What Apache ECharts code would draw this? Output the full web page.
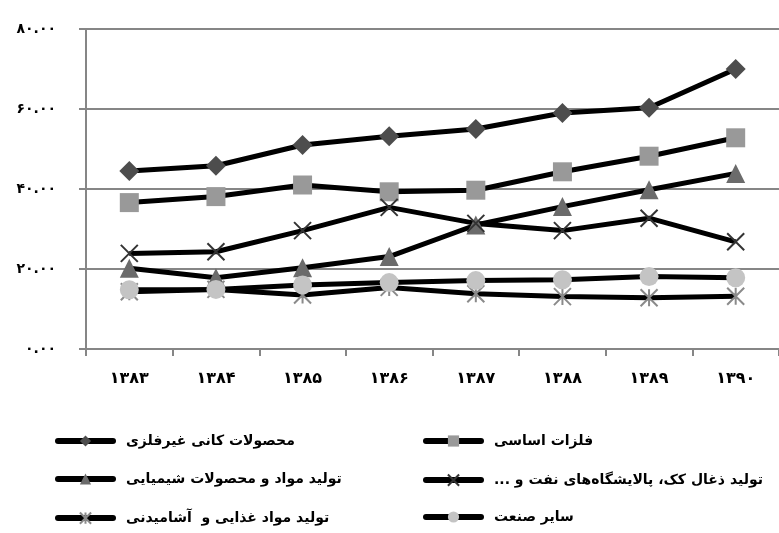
<!DOCTYPE html>
<html><head><meta charset="utf-8">
<script src="https://cdn.jsdelivr.net/npm/echarts@6/dist/echarts.min.js"></script>
<style>html,body{margin:0;padding:0;background:#fff}#c{width:779px;height:533px}</style>
</head><body><div id="c"></div>
<script>
const categories = ['۱۳۸۳','۱۳۸۴','۱۳۸۵','۱۳۸۶','۱۳۸۷','۱۳۸۸','۱۳۸۹','۱۳۹۰'];
const yTickLabels = ['۰.۰۰','۲۰.۰۰','۴۰.۰۰','۶۰.۰۰','۸۰.۰۰'];
const nonMetal = [44.5, 45.8, 51.0, 53.2, 55.0, 59.0, 60.3, 70.0];
const basicMetals = [36.6, 38.1, 41.0, 39.3, 39.7, 44.3, 48.2, 52.8];
const chemicals = [20.2, 17.8, 20.3, 23.1, 31.0, 35.6, 39.8, 43.9];
const coke = [23.9, 24.3, 29.6, 35.4, 31.4, 29.6, 32.7, 26.8];
const food = [14.3, 14.9, 13.5, 15.4, 13.8, 13.1, 12.8, 13.2];
const other = [14.8, 14.9, 16.0, 16.6, 17.1, 17.3, 18.1, 17.8];
const names = ['محصولات کانی غیرفلزی','فلزات اساسی','تولید مواد و محصولات شیمیایی','تولید ذغال کک، پالایشگاه‌های نفت و ...\u200F','تولید مواد غذایی و  آشامیدنی','سایر صنعت'];

const font = '"DejaVu Sans", sans-serif';
function mk(name, data, symbol, size, fill, stroke, bw) {
  return {
    name, type: 'line', data, symbol, symbolSize: size,
    lineStyle: { color: '#000', width: 5 },
    itemStyle: stroke ? { color: fill, borderColor: stroke, borderWidth: bw } : { color: fill },
    emphasis: { disabled: true }, animation: false
  };
}
const legendPos = [[55, 434], [423, 434], [55, 472], [423, 472], [55, 510], [423, 510]];
const legends = names.map((n, i) => ({
  left: legendPos[i][0], top: legendPos[i][1], itemWidth: 55, itemHeight: 14, itemGap: 0,
  padding: 0, data: [n],
  lineStyle: { width: 6, color: '#000', cap: 'round' },
  textStyle: { color: '#000', fontSize: 14, fontWeight: 'bold', fontFamily: font, padding: [0, 0, 0, 8] }
}));
const chart = echarts.init(document.getElementById('c'));
chart.setOption({
  animation: false,
  textStyle: { fontFamily: font },
  grid: { left: 86, top: 29, width: 697, height: 320, containLabel: false },
  xAxis: {
    type: 'category', data: categories, boundaryGap: true,
    axisLine: { lineStyle: { color: '#868686', width: 2 } },
    axisTick: { show: true, length: 7, lineStyle: { color: '#868686', width: 2 } },
    axisLabel: { color: '#000', fontSize: 16, fontWeight: 'bold', margin: 22, fontFamily: font }
  },
  yAxis: {
    type: 'value', min: 0, max: 80, interval: 20,
    axisLine: { show: true, lineStyle: { color: '#868686', width: 2 } },
    axisTick: { show: true, length: 7, lineStyle: { color: '#868686', width: 2 } },
    splitLine: { show: true, lineStyle: { color: '#868686', width: 2 } },
    axisLabel: { color: '#000', fontSize: 14, fontWeight: 'bold', margin: 30, fontFamily: font,
      formatter: (v) => yTickLabels[Math.round(v / 20)] }
  },
  legend: legends,
  series: [
    mk(names[0], nonMetal, 'diamond', 20, '#4d4d4d'),
    mk(names[1], basicMetals, 'rect', 19, '#999999'),
    mk(names[2], chemicals, 'triangle', 19, '#6b6b6b'),
    mk(names[3], coke, 'path://M0 0L10 10M10 0L0 10', 17, 'none', '#333333', 2),
    mk(names[4], food, 'path://M0 0L10 10M10 0L0 10M5 0L5 10', 17, 'none', '#8a8a8a', 2),
    mk(names[5], other, 'circle', 19, '#c4c4c4')
  ]
});
</script></body></html>
